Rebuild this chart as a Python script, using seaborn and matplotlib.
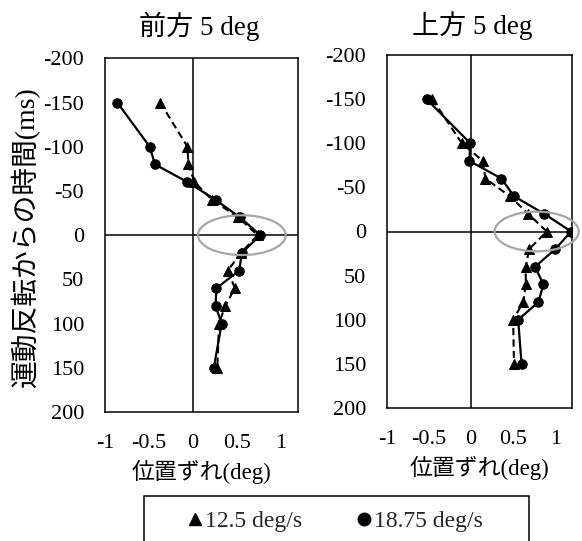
import matplotlib
matplotlib.use("Agg")
import matplotlib.pyplot as plt
from matplotlib.patches import Ellipse, Rectangle
from matplotlib.lines import Line2D
import seaborn as sns
import pandas as pd

# ---- data ----
times = [-150, -100, -80, -60, -40, -20, 0, 20, 40, 60, 80, 100, 150]

front_slow = [-0.37, -0.06, -0.05, 0.02, 0.22, 0.52, 0.74, 0.55, 0.40, 0.48, 0.37, 0.30, 0.28]
front_fast = [-0.86, -0.49, -0.43, -0.06, 0.26, 0.54, 0.77, 0.56, 0.53, 0.27, 0.26, 0.33, 0.24]
up_slow = [-0.46, -0.11, 0.14, 0.17, 0.46, 0.68, 0.90, 0.69, 0.65, 0.65, 0.62, 0.50, 0.51]
up_fast = [-0.53, -0.01, -0.02, 0.36, 0.51, 0.87, 1.19, 1.00, 0.76, 0.86, 0.80, 0.56, 0.60]

titles = ["前方 5 deg", "上方 5 deg"]
series_names = ["12.5 deg/s", "18.75 deg/s"]
xticks = [-1, -0.5, 0, 0.5, 1]
xtick_labels = ["-1", "-0.5", "0", "0.5", "1"]
yticks = [-200, -150, -100, -50, 0, 50, 100, 150, 200]
ellipse_centers = [(0.56, 0), (0.78, 0)]

sns.set_theme(style="white")
plt.rcParams['font.family'] = ['Liberation Serif', 'Noto Sans CJK JP', 'DejaVu Sans']
plt.rcParams['axes.unicode_minus'] = False

W, H = 582, 541
fig = plt.figure(figsize=(W / 100, H / 100), dpi=100)

boxes = [(105, 58.3, 298, 412), (387, 55, 572, 408)]
panels = [(front_slow, front_fast), (up_slow, up_fast)]
title_x = [199, 472]

for i, ((x0, y0, x1, y1), (slow, fast)) in enumerate(zip(boxes, panels)):
    ax = fig.add_axes([x0 / W, 1 - y1 / H, (x1 - x0) / W, (y1 - y0) / H])
    df = pd.DataFrame({"t": times, "slow": slow, "fast": fast})
    sns.lineplot(data=df, x="slow", y="t", sort=False, estimator=None, ax=ax,
                 color="black", lw=1.5, linestyle=(0, (3.5, 2.0)), marker="^",
                 markersize=6.5, markeredgecolor="black", markerfacecolor="black")
    sns.lineplot(data=df, x="fast", y="t", sort=False, estimator=None, ax=ax,
                 color="black", lw=1.6, marker="o",
                 markersize=6.8, markeredgecolor="black", markerfacecolor="black")
    ax.axhline(0, color="black", lw=1.1, zorder=1)
    ax.axvline(0, color="black", lw=1.1, zorder=1)
    ax.set_xlim(-1, 1.2)
    ax.set_ylim(200, -200)
    ax.set_xticks(xticks)
    ax.set_xticklabels(xtick_labels)
    ax.set_yticks(yticks)
    ax.tick_params(axis="both", length=0, labelsize=16, colors="black")
    ax.tick_params(axis="x", pad=16)
    ax.tick_params(axis="y", pad=15)
    ax.set_xlabel("位置ずれ(deg)", fontsize=16.5, labelpad=4.5, color="black")
    ax.set_ylabel("")
    for s in ax.spines.values():
        s.set_color("black")
        s.set_linewidth(1.1)
    e = Ellipse(ellipse_centers[i], width=1.0, height=45, fill=False,
                edgecolor="#a6a6a6", lw=1.6, clip_on=False, zorder=5)
    ax.add_patch(e)
    fig.text(title_x[i] / W, 1 - 26 / H, titles[i], ha="center", va="center",
             fontsize=19.5, color="black")

fig.text(25 / W, 1 - 237 / H, "運動反転からの時間(ms)", rotation=90,
         ha="center", va="center", fontsize=20, color="black")

# legend frame
fig.patches.append(Rectangle((144 / W, -0.05), 385 / W, 1 - 495.7 / H + 0.05,
                             transform=fig.transFigure, fill=False,
                             edgecolor="black", lw=1.1))
handles = [Line2D([], [], ls="none", marker="^", color="black", markersize=9),
           Line2D([], [], ls="none", marker="o", color="black", markersize=9)]
fig.legend(handles, series_names, loc="center", ncol=2,
           bbox_to_anchor=(336 / W, 1 - 521 / H), frameon=False,
           fontsize=17, handlelength=0.5, handletextpad=0.15, columnspacing=2.4)

fig.savefig("out.png", dpi=100)
